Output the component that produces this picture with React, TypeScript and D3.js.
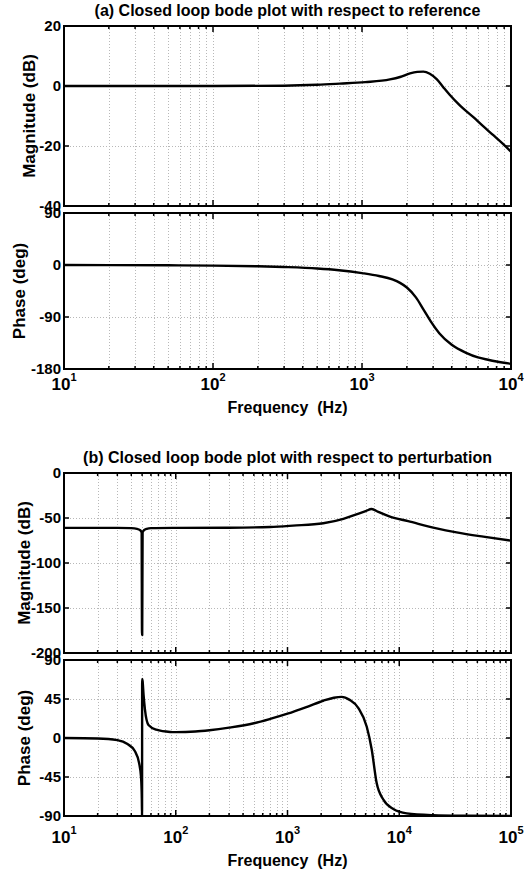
import React, { useEffect, useRef } from 'react';
import * as d3 from 'd3';

// (a) closed loop wrt reference
const refMagFreq = [10, 100, 300, 500, 711, 1050, 1540, 1800, 2100, 2350, 2580, 2850, 3170, 3500, 3890, 4500, 5590, 6500, 7610, 8800, 10000];
const refMagDb = [0, 0, 0.1, 0.4, 0.8, 1.3, 2.2, 3.0, 4.2, 4.7, 4.8, 4.1, 2.3, -0.3, -3.0, -6.3, -10.4, -13.4, -16.4, -19.2, -21.9];
const refPhaseFreq = [10, 50, 100, 200, 300, 500, 700, 1000, 1300, 1600, 1800, 2000, 2300, 2600, 2900, 3300, 4000, 5000, 6000, 7000, 8000, 10000];
const refPhaseDeg = [0, -0.5, -1, -2.2, -3.5, -6, -9, -14, -19, -25, -31, -39, -56, -78, -98, -118, -138, -152, -160, -164, -167, -171];

// (b) closed loop wrt perturbation
const pertMagFreq = [10, 30, 40, 45, 48, 49.5, 49.9, 50.1, 50.5, 52, 55, 60, 100, 300, 697, 1120, 2090, 3160, 4200, 5000, 5660, 6500, 8260, 12000, 21600, 32600, 56500, 100000];
const pertMagDb = [-61, -61, -61.3, -62, -63.5, -66, -180, -180, -66, -63.5, -62, -61.3, -61, -60.8, -60, -58.5, -55.9, -51, -45.6, -42.4, -40, -43.2, -48.5, -53.5, -61.5, -65.9, -70.7, -75.2];
const pertPhaseFreq = [10, 20, 30, 37, 43, 47, 48.9, 49.7, 49.95, 50.05, 50.5, 51.5, 53, 57, 67, 89, 100, 150, 200, 300, 500, 700, 1000, 1500, 2090, 2600, 3050, 3600, 4310, 5120, 5665, 6280, 7200, 8850, 11660, 20000, 40000, 100000];
const pertPhaseDeg = [0, -0.5, -2.5, -7, -15, -29, -45, -70, -90, 68, 66, 50, 33, 15, 9.6, 7, 6.8, 7.5, 9, 12, 17, 22, 28, 36, 43, 46.5, 47.5, 44, 34.6, 13, -13, -52, -71, -82, -87, -89, -89.7, -90];

const magATicks = [-40, -20, 0, 20];
const phaseATicks = [-180, -90, 0, 90];
const magBTicks = [-200, -150, -100, -50, 0];
const phaseBTicks = [-90, -45, 0, 45, 90];

const titleA = '(a) Closed loop bode plot with respect to reference';
const titleB = '(b) Closed loop bode plot with respect to perturbation';

const FONT = "'Liberation Sans', Arial, sans-serif";
const LEFT = 64;
const RIGHT = 511;

let clipCount = 0;

function drawAxes(svg: any, x: any, y: any, yTicks: number[], freq: number[], vals: number[], label: string, labelX: number) {
  const [x0, x1] = x.range();
  const [yb, yt] = y.range();
  const [d0, d1] = x.domain();
  const g = svg.append('g');

  const gridX: { v: number; major: boolean }[] = [];
  for (let k = Math.round(Math.log10(d0)); k < Math.round(Math.log10(d1)); k++) {
    for (let m = 1; m <= 9; m++) gridX.push({ v: m * Math.pow(10, k), major: m === 1 });
  }

  // dotted grid
  g.selectAll('line.vg').data(gridX.filter(d => d.v > d0)).join('line')
    .attr('x1', d => Math.round(x(d.v)) + 0.5).attr('x2', d => Math.round(x(d.v)) + 0.5)
    .attr('y1', yt).attr('y2', yb)
    .attr('stroke', '#b8b8b8').attr('stroke-width', 1).attr('stroke-dasharray', '1,2');
  g.selectAll('line.hg').data(yTicks.filter(t => t !== y.domain()[0] && t !== y.domain()[1])).join('line')
    .attr('x1', x0).attr('x2', x1)
    .attr('y1', d => Math.round(y(d)) + 0.5).attr('y2', d => Math.round(y(d)) + 0.5)
    .attr('stroke', '#b8b8b8').attr('stroke-width', 1).attr('stroke-dasharray', '1,2');

  // curve
  const id = 'clip' + (clipCount++);
  svg.append('clipPath').attr('id', id).append('rect')
    .attr('x', x0).attr('y', yt).attr('width', x1 - x0).attr('height', yb - yt);
  const line = d3.line<number>()
    .x((_, i) => x(freq[i]))
    .y(d => y(d))
    .curve(d3.curveMonotoneX);
  svg.append('path').attr('d', line(vals)).attr('clip-path', `url(#${id})`)
    .attr('fill', 'none').attr('stroke', 'black').attr('stroke-width', 2.4)
    .attr('stroke-linejoin', 'round');

  // tick marks
  const tk = svg.append('g').attr('stroke', 'black').attr('stroke-width', 1.5);
  gridX.filter(d => d.v > d0).forEach(d => {
    const len = d.major ? 6 : 3;
    const px = x(d.v);
    tk.append('line').attr('x1', px).attr('x2', px).attr('y1', yt).attr('y2', yt + len);
    tk.append('line').attr('x1', px).attr('x2', px).attr('y1', yb).attr('y2', yb - len);
  });
  yTicks.forEach(t => {
    tk.append('line').attr('x1', x0).attr('x2', x0 + 5).attr('y1', y(t)).attr('y2', y(t));
    tk.append('line').attr('x1', x1).attr('x2', x1 - 5).attr('y1', y(t)).attr('y2', y(t));
  });

  // frame
  svg.append('rect').attr('x', x0).attr('y', yt).attr('width', x1 - x0).attr('height', yb - yt)
    .attr('fill', 'none').attr('stroke', 'black').attr('stroke-width', 2);

  // y tick labels
  svg.append('g').selectAll('text').data(yTicks).join('text')
    .attr('x', x0 - 3).attr('y', d => y(d)).attr('dy', '0.36em')
    .attr('text-anchor', 'end').attr('font-family', FONT).attr('font-weight', 'bold')
    .attr('font-size', 15).text(d => String(d));

  // y label
  svg.append('text')
    .attr('transform', `translate(${labelX},${(yt + yb) / 2}) rotate(-90)`)
    .attr('text-anchor', 'middle').attr('font-family', FONT).attr('font-weight', 'bold')
    .attr('font-size', 17).text(label);
}

function drawFreqLabels(svg: any, x: any, base: number) {
  const [d0, d1] = x.domain();
  const decades = d3.range(Math.round(Math.log10(d0)), Math.round(Math.log10(d1)) + 1);
  decades.forEach(k => {
    const t = svg.append('text').attr('x', x(Math.pow(10, k))).attr('y', base)
      .attr('text-anchor', 'middle').attr('font-family', FONT).attr('font-weight', 'bold')
      .attr('font-size', 17);
    t.append('tspan').text('10');
    t.append('tspan').attr('dy', -9).attr('font-size', 11).text(String(k));
  });
  svg.append('text').attr('x', (LEFT + RIGHT) / 2).attr('y', base + 23)
    .attr('text-anchor', 'middle').attr('font-family', FONT).attr('font-weight', 'bold')
    .attr('font-size', 16).style('white-space', 'pre').text('Frequency  (Hz)');
}

export default function App() {
  const ref = useRef<SVGSVGElement>(null);

  useEffect(() => {
    const svg = d3.select(ref.current);
    svg.selectAll('*').remove();
    clipCount = 0;

    svg.append('rect').attr('width', 527).attr('height', 871).attr('fill', 'white');

    // ---- panel (a)
    const xa = d3.scaleLog().domain([10, 1e4]).range([LEFT, RIGHT]);
    const yMagA = d3.scaleLinear().domain([-40, 20]).range([206, 26]);
    const yPhA = d3.scaleLinear().domain([-180, 90]).range([369, 213]);

    svg.append('text').attr('x', (LEFT + RIGHT) / 2).attr('y', 16)
      .attr('text-anchor', 'middle').attr('font-family', FONT).attr('font-weight', 'bold')
      .attr('font-size', 16).text(titleA);

    drawAxes(svg, xa, yMagA, magATicks, refMagFreq, refMagDb, 'Magnitude (dB)', 35);
    drawAxes(svg, xa, yPhA, phaseATicks, refPhaseFreq, refPhaseDeg, 'Phase (deg)', 25);
    drawFreqLabels(svg, xa, 390);

    // ---- panel (b)
    const xb = d3.scaleLog().domain([10, 1e5]).range([LEFT, RIGHT]);
    const yMagB = d3.scaleLinear().domain([-200, 0]).range([653, 473]);
    const yPhB = d3.scaleLinear().domain([-90, 90]).range([816, 660]);

    svg.append('text').attr('x', (LEFT + RIGHT) / 2).attr('y', 463)
      .attr('text-anchor', 'middle').attr('font-family', FONT).attr('font-weight', 'bold')
      .attr('font-size', 16).text(titleB);

    drawAxes(svg, xb, yMagB, magBTicks, pertMagFreq, pertMagDb, 'Magnitude (dB)', 30);
    drawAxes(svg, xb, yPhB, phaseBTicks, pertPhaseFreq, pertPhaseDeg, 'Phase (deg)', 30);
    drawFreqLabels(svg, xb, 843);
  }, []);

  return (
    <svg ref={ref} width={527} height={871}
      style={{ position: 'absolute', left: 0, top: 0, display: 'block' }} />
  );
}
